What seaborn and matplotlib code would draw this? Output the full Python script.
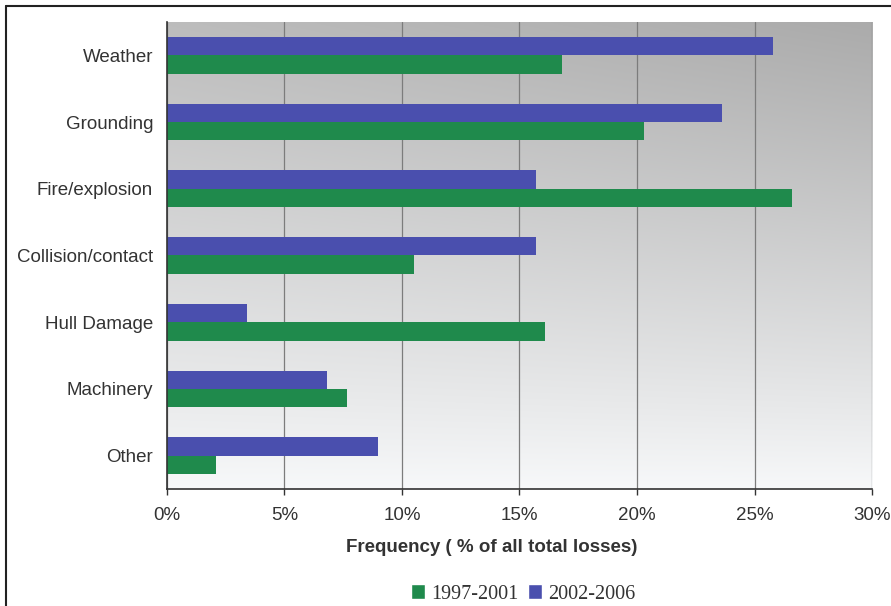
import numpy as np
import pandas as pd
import matplotlib
matplotlib.use("Agg")
import matplotlib.pyplot as plt
from matplotlib.lines import Line2D
from matplotlib.patches import Patch
import seaborn as sns

categories = ["Weather", "Grounding", "Fire/explosion", "Collision/contact",
              "Hull Damage", "Machinery", "Other"]
period_early = "1997-2001"
period_late = "2002-2006"
values_early = [16.8, 20.3, 26.6, 10.5, 16.1, 7.65, 2.1]
values_late = [25.8, 23.6, 15.7, 15.7, 3.4, 6.8, 9.0]
xticks = [0, 5, 10, 15, 20, 25, 30]
xtick_labels = ["0%", "5%", "10%", "15%", "20%", "25%", "30%"]

df = pd.DataFrame({
    "cause": categories * 2,
    "period": [period_late] * len(categories) + [period_early] * len(categories),
    "freq": values_late + values_early,
})

sns.set_theme(style="white")
plt.rcParams["font.family"] = ["Liberation Sans", "DejaVu Sans"]

palette = {period_early: "#1f8a4c", period_late: "#4a4fae"}

fig = plt.figure(figsize=(8.91, 6.06), dpi=100)
ax = fig.add_axes([0.1874, 0.1931, 0.7913, 0.7706])

# background: grey at the top fading to near white at the bottom
ny, nx = 200, 200
yy = np.linspace(0, 1, ny)[:, None]
xx = np.linspace(0, 1, nx)[None, :]
top = 0.74 - 0.07 * xx
bottom = 0.97 + 0.0 * xx
t = yy ** 0.9
shade = bottom * (1 - t) + top * t
rgb = np.dstack([shade, shade + 0.005 * (1 - t), shade + 0.01 * (1 - t)])
rgb = np.clip(rgb, 0, 1)
ax.imshow(rgb, extent=(0, 1, 0, 1), transform=ax.transAxes, origin="lower",
          aspect="auto", zorder=0, interpolation="bicubic")

sns.barplot(data=df, y="cause", x="freq", hue="period",
            hue_order=[period_late, period_early], order=categories,
            palette=palette, orient="h", width=0.55, dodge=True,
            saturation=1, edgecolor="none", linewidth=0, ax=ax, legend=False,
            zorder=3)

ax.set_xlim(0, 30)
ax.set_ylim(6.5, -0.5)
ax.set_xticks(xticks)
ax.set_xticklabels(xtick_labels)
ax.xaxis.grid(True, color="#7c7c7c", linewidth=0.9, zorder=1)
ax.set_axisbelow(True)
for gl in ax.get_xgridlines():
    gl.set_zorder(1)

for side in ["top", "right"]:
    ax.spines[side].set_visible(False)
for side in ["left", "bottom"]:
    ax.spines[side].set_color("#333333")
    ax.spines[side].set_linewidth(1.2)
    ax.spines[side].set_zorder(4)

ax.tick_params(axis="x", which="major", bottom=True, length=4, width=1,
               color="#333333", labelsize=13.5, labelcolor="#333333", pad=9)
ax.tick_params(axis="y", left=False, length=0, labelsize=13.5,
               labelcolor="#333333", pad=10)

ax.set_ylabel("")
ax.set_xlabel("Frequency ( % of all total losses)", fontsize=13.5,
              fontweight="bold", color="#333333")
ax.xaxis.set_label_coords(0.46, -0.108)

handles = [Patch(facecolor=palette[period_early], label=period_early),
           Patch(facecolor=palette[period_late], label=period_late)]
fig.legend(handles=handles, loc="center", bbox_to_anchor=(0.587, 0.02),
           ncol=2, frameon=False, handlelength=0.7, handleheight=0.8,
           handletextpad=0.3, columnspacing=0.5,
           prop={"family": "Liberation Serif", "size": 14.5})
for txt in fig.legends[0].get_texts():
    txt.set_color("#333333")

# frame lines along the left and top of the figure
fig.add_artist(Line2D([6 / 891, 6 / 891], [0, 1 - 6 / 606], color="#222222",
                      linewidth=1.5, transform=fig.transFigure))
fig.add_artist(Line2D([6 / 891, 1], [1 - 6 / 606, 1 - 6 / 606], color="#222222",
                      linewidth=1.5, transform=fig.transFigure))

fig.savefig("out.png", dpi=100, facecolor="white")
